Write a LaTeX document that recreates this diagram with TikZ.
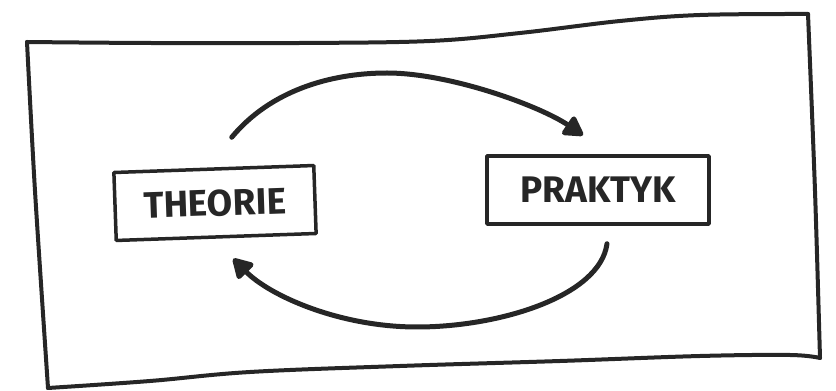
\documentclass[tikz,border=0pt]{standalone}
\usepackage{fontspec}
\setmainfont{Fira Sans}
\usetikzlibrary{arrows.meta}
\definecolor{inkc}{HTML}{262626}
\begin{document}
\begin{tikzpicture}[x=1pt,y=1pt,
  ink/.style={draw=inkc, line width=4pt, line cap=round, line join=round},
  labelbox/.style={draw=inkc, line width=3.5pt, line join=round, minimum height=68pt,
    font=\fontsize{37}{37}\selectfont\bfseries, text=inkc, inner sep=0pt},
  arr/.style={draw=inkc, line width=5pt, line cap=round,
    -{Triangle[length=22pt,width=24pt,round]}}]
\useasboundingbox (0,0) rectangle (836,391);
% outer frame
\draw[ink] plot[smooth, tension=0.6] coordinates {(27,349) (150,348) (300,348) (430,350) (520,358) (620,370) (700,376) (808,377)};
\draw[ink] plot[smooth] coordinates {(808,377) (815,200) (820,33)};
\draw[ink] plot[smooth, tension=0.6] coordinates {(820,33) (790,36) (700,35) (560,30) (400,25) (250,19) (150,10) (48,3)};
\draw[ink] plot[smooth] coordinates {(48,3) (35,200) (27,349)};
% boxes
\node[labelbox, minimum width=200pt, rotate=2] (theorie) at (215,188) {THEORIE};
\node[labelbox, minimum width=222pt] (praktyk) at (598,201) {PRAKTYK};
% connectors
\coordinate (s1) at ([xshift=18pt,yshift=30pt]theorie.north);
\coordinate (e1) at ([xshift=-15pt,yshift=19pt]praktyk.north);
\coordinate (s2) at ([xshift=9pt,yshift=-18pt]praktyk.south);
\coordinate (e2) at ([xshift=17pt,yshift=-20pt]theorie.south);
\draw[arr] (s1) .. controls (270,300) and (330,318) .. (387,318)
  .. controls (450,318) and (540,285) .. (e1);
\draw[arr] (s2) .. controls (600,95) and (500,64) .. (417,64)
  .. controls (340,64) and (270,95) .. (e2);
\end{tikzpicture}
\end{document}
